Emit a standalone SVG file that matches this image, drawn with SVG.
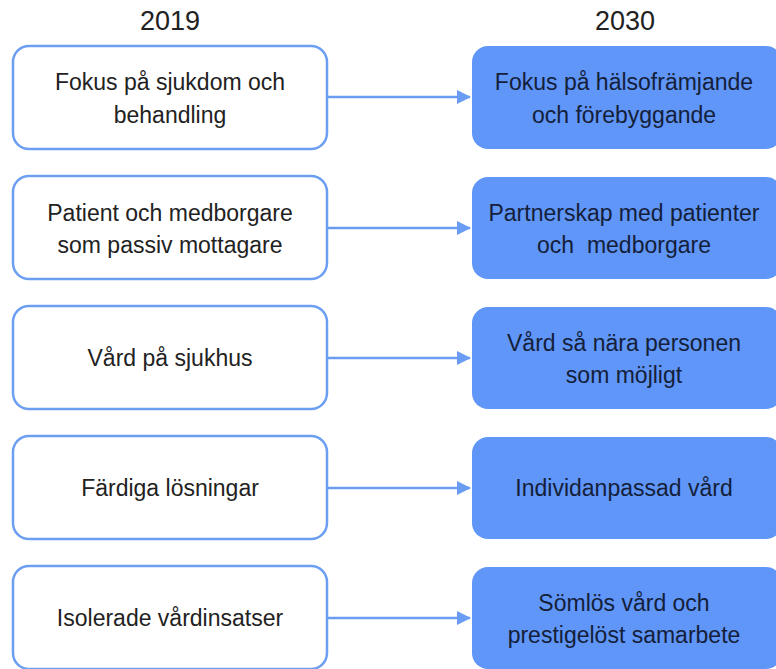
<svg xmlns="http://www.w3.org/2000/svg" width="776" height="669" viewBox="0 0 776 669">
<defs>
<marker id="ah" markerWidth="14" markerHeight="14" refX="13" refY="7" orient="auto" markerUnits="userSpaceOnUse">
<path d="M0,0 L14,7 L0,14 Z" fill="#6a9cf3"/>
</marker>
<style>
.l{fill:#fff;stroke:#6c9ef2;stroke-width:2.5}
.r{fill:#6096f7;stroke:none}
.lt{font-family:"Liberation Sans",Arial,sans-serif;font-size:23px;fill:#222;text-anchor:middle}
.rt{font-family:"Liberation Sans",Arial,sans-serif;font-size:23px;fill:#14203a;text-anchor:middle;white-space:pre}
.h{font-family:"Liberation Sans",Arial,sans-serif;font-size:27px;fill:#222;text-anchor:middle}
.c{stroke:#6a9cf3;stroke-width:2.5;fill:none}
</style>
</defs>
<rect width="776" height="669" fill="#fff"/>
<text class="h" x="170" y="30">2019</text>
<text class="h" x="625" y="30">2030</text>
<g id="connectors">
<line class="c" x1="327" y1="97" x2="470" y2="97" marker-end="url(#ah)"/>
<line class="c" x1="327" y1="228" x2="470" y2="228" marker-end="url(#ah)"/>
<line class="c" x1="327" y1="358" x2="470" y2="358" marker-end="url(#ah)"/>
<line class="c" x1="327" y1="488" x2="470" y2="488" marker-end="url(#ah)"/>
<line class="c" x1="327" y1="618" x2="470" y2="618" marker-end="url(#ah)"/>
</g>
<g id="l1"><rect class="l" x="13" y="46" width="314" height="103" rx="16"/>
<text class="lt" x="170" y="90">Fokus på sjukdom och</text><text class="lt" x="170" y="123">behandling</text></g>
<g id="l2"><rect class="l" x="13" y="176" width="314" height="103" rx="16"/>
<text class="lt" x="170" y="221">Patient och medborgare</text><text class="lt" x="170" y="253">som passiv mottagare</text></g>
<g id="l3"><rect class="l" x="13" y="306" width="314" height="103" rx="16"/>
<text class="lt" x="170" y="366">Vård på sjukhus</text></g>
<g id="l4"><rect class="l" x="13" y="436" width="314" height="103" rx="16"/>
<text class="lt" x="170" y="496">Färdiga lösningar</text></g>
<g id="l5"><rect class="l" x="13" y="566" width="314" height="103" rx="16"/>
<text class="lt" x="170" y="626">Isolerade vårdinsatser</text></g>
<g id="r1"><rect class="r" x="472" y="46" width="310" height="103" rx="16"/>
<text class="rt" x="624" y="90">Fokus på hälsofrämjande</text><text class="rt" x="624" y="123">och förebyggande</text></g>
<g id="r2"><rect class="r" x="472" y="177" width="310" height="102" rx="16"/>
<text class="rt" x="624" y="221">Partnerskap med patienter</text><text class="rt" x="624" y="253">och  medborgare</text></g>
<g id="r3"><rect class="r" x="472" y="307" width="310" height="102" rx="16"/>
<text class="rt" x="624" y="351">Vård så nära personen</text><text class="rt" x="624" y="383">som möjligt</text></g>
<g id="r4"><rect class="r" x="472" y="437" width="310" height="102" rx="16"/>
<text class="rt" x="624" y="496">Individanpassad vård</text></g>
<g id="r5"><rect class="r" x="472" y="567" width="310" height="102" rx="16"/>
<text class="rt" x="624" y="611">Sömlös vård och</text><text class="rt" x="624" y="643">prestigelöst samarbete</text></g>
</svg>
